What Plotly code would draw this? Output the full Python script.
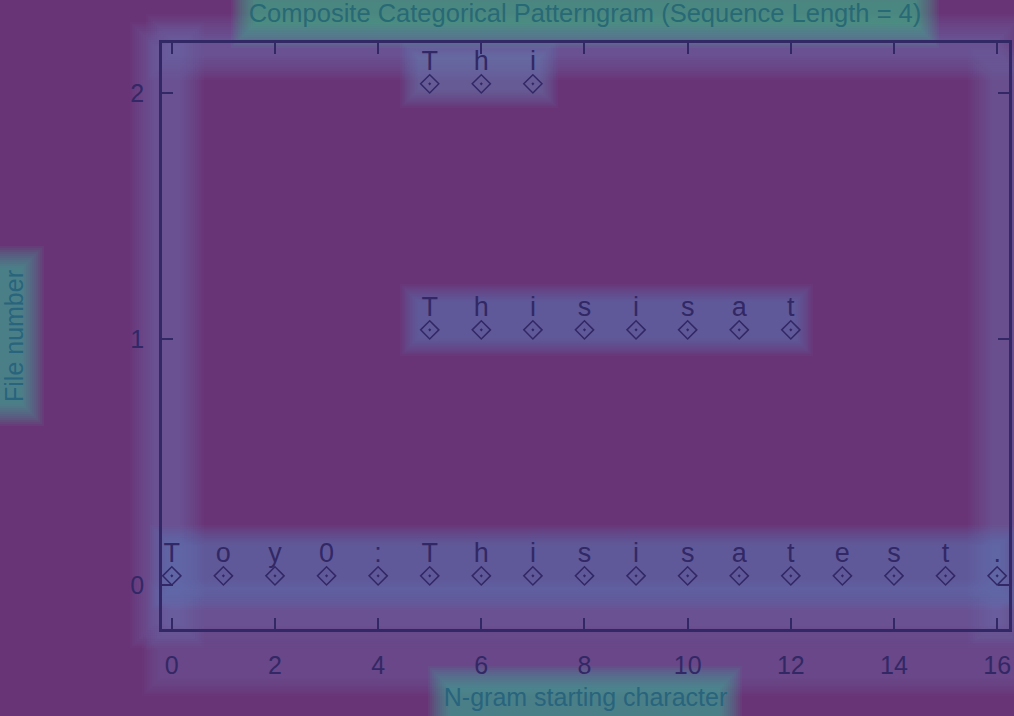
import plotly.graph_objects as go

# Data
file0_chars = list("Toy0:This is a test.".replace(" ", ""))
file0_pos = list(range(0, 17))
file1_chars = list("This is at".replace(" ", ""))
file1_pos = list(range(5, 13))
file2_chars = list("Thi")
file2_pos = [5, 6, 7]
files = [(0, file0_pos, file0_chars), (1, file1_pos, file1_chars), (2, file2_pos, file2_chars)]

x_ticks = list(range(0, 17, 2))
y_ticks = [0, 1, 2]

BG = "rgb(105,52,118)"
INK = "rgb(50,40,102)"
FONT = "Liberation Sans, Arial"
MARK_OFF = 0.037
TEXT_OFF = 0.12

W, H = 1014, 716
L, R, T, B = 162, 5, 43, 87
PW, PH = W - L - R, H - T - B

fig = go.Figure()

for fnum, pos, chars in files:
    fig.add_trace(go.Scatter(
        x=pos, y=[fnum + MARK_OFF] * len(pos), mode="markers",
        marker=dict(symbol="diamond-open-dot", size=14, color=INK, line=dict(width=1.5, color=INK)),
        showlegend=False, cliponaxis=False, hoverinfo="skip",
    ))
    fig.add_trace(go.Scatter(
        x=pos, y=[fnum + TEXT_OFF] * len(pos), mode="text", text=chars,
        textposition="middle center",
        textfont=dict(family=FONT, size=27, color=INK),
        showlegend=False, cliponaxis=False, hoverinfo="skip",
    ))


def soft(x0, x1, y0, y1, rgb, alpha, spread=24, n=12):
    for i in range(n):
        pad = spread * (1 - i / (n - 1))
        fig.add_shape(type="rect", xref="paper", yref="paper",
                      x0=(x0 - pad - L) / PW, x1=(x1 + pad - L) / PW,
                      y0=(H - B - (y1 + pad)) / PH, y1=(H - B - (y0 - pad)) / PH,
                      fillcolor=f"rgba({rgb},{alpha / n:.4f})", line=dict(width=0), layer="below")


# glow overlay approximation
soft(170, 1000, 38, 56, "115,110,175", 0.75)
soft(170, 1000, 604, 626, "115,110,175", 0.75)
soft(154, 180, 46, 624, "115,110,175", 0.75)
soft(992, 1014, 70, 624, "115,110,175", 0.6)
soft(170, 1000, 545, 590, "95,130,185", 0.75, spread=20)
soft(418, 795, 302, 338, "95,130,185", 0.75, spread=18)
soft(418, 540, 58, 90, "95,130,185", 0.7, spread=18)
soft(160, 1014, 650, 678, "110,105,170", 0.55, spread=18)
soft(255, 915, 2, 24, "70,185,140", 0.95, spread=24)
soft(450, 720, 688, 716, "65,175,150", 0.95, spread=22)
soft(0, 22, 268, 404, "65,175,150", 0.95, spread=22)

axis_common = dict(
    showline=True, linecolor=INK, linewidth=2.5, mirror="allticks",
    ticks="inside", ticklen=11, tickwidth=2, tickcolor=INK,
    showgrid=False, zeroline=False, automargin=False,
    tickfont=dict(family=FONT, size=25, color=INK),
)

fig.update_layout(
    width=W, height=H,
    paper_bgcolor=BG, plot_bgcolor="rgba(0,0,0,0)",
    margin=dict(l=L, r=R, t=T, b=B, autoexpand=False),
    title=dict(text="Composite Categorical Patterngram (Sequence Length = 4)",
               x=585 / W, xanchor="center", y=1 - 13 / H, yanchor="middle",
               font=dict(family=FONT, size=25.5, color="rgb(40,105,118)")),
    xaxis=dict(range=[-0.19, 16.23], tickvals=x_ticks, ticklabelstandoff=12,
               title=dict(text="N-gram starting character", standoff=11,
                          font=dict(family=FONT, size=25, color="rgb(40,100,125)")),
               **axis_common),
    yaxis=dict(range=[-0.179, 2.203], tickvals=y_ticks, ticklabelstandoff=10,
               title=dict(text="File number", standoff=114,
                          font=dict(family=FONT, size=25, color="rgb(40,100,125)")),
               **axis_common),
)

fig.write_html("out.html", config={"displayModeBar": False},
               post_script="document.body.style.margin='0';")
